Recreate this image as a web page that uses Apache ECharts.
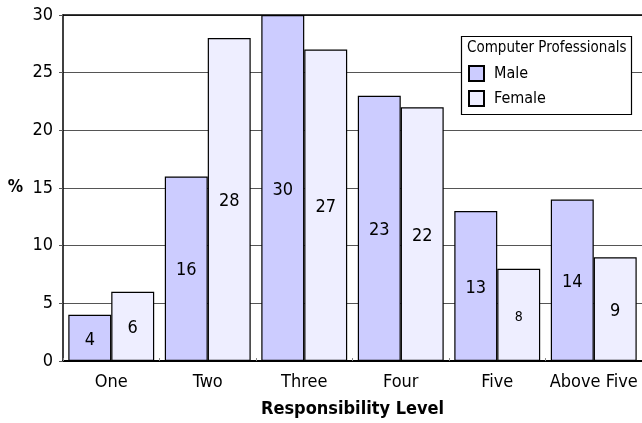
<!DOCTYPE html>
<html>
<head>
<meta charset="utf-8">
<script src="https://cdn.jsdelivr.net/npm/echarts@6/dist/echarts.min.js"></script>
<style>
  html, body { margin: 0; padding: 0; background: #fff; }
  #chart { width: 642px; height: 423px; }
</style>
</head>
<body>
<div id="chart"></div>
<script>
// Share of computer professionals at each responsibility level, by gender (%)
const categories = ['One', 'Two', 'Three', 'Four', 'Five', 'Above Five'];
const maleValues = [4, 16, 30, 23, 13, 14];
const femaleValues = [6, 28, 27, 22, 8, 9];
const yTicks = [0, 5, 10, 15, 20, 25, 30];

const FONT = '"Liberation Sans Narrow", "DejaVu Sans Condensed", "Arial Narrow", sans-serif';

const chart = echarts.init(document.getElementById('chart'), null, { renderer: 'canvas' });

function barData(values) {
  return values.map(v => {
    const item = { value: v };
    // single-digit value in a narrow spot is set a little smaller
    if (v === 8) item.label = { fontSize: 14 };
    return item;
  });
}

const valueLabel = {
  show: true,
  position: 'inside',
  offset: [0, 2],
  fontFamily: FONT,
  fontSize: 18,
  color: '#000'
};

chart.setOption({
  animation: false,
  backgroundColor: '#ffffff',
  textStyle: { fontFamily: FONT, color: '#000' },
  grid: { left: 63, top: 15, right: -3, bottom: 61, containLabel: false },
  legend: {
    z: 20,
    orient: 'vertical',
    left: 468,
    top: 65,
    padding: 0,
    itemWidth: 15,
    itemHeight: 15,
    itemGap: 8,
    icon: 'rect',
    data: ['Male', 'Female'],
    textStyle: { fontFamily: FONT, fontSize: 16, color: '#000', padding: [0, 0, 0, 5] }
  },
  xAxis: [
    {
      type: 'category',
      data: categories,
      position: 'bottom',
      axisLine: { show: true, lineStyle: { color: '#000', width: 2 } },
      axisTick: { show: true, inside: true, length: 3, lineStyle: { color: '#888' } },
      axisLabel: { interval: 0, fontFamily: FONT, fontSize: 18, color: '#000', margin: 12 },
      name: 'Responsibility Level',
      nameLocation: 'middle',
      nameGap: 39,
      nameTextStyle: { fontFamily: FONT, fontSize: 18, fontWeight: 'bold', color: '#000', verticalAlign: 'top' }
    },
    {
      type: 'category',
      data: categories,
      position: 'top',
      axisLine: { show: true, lineStyle: { color: '#000', width: 1.5 } },
      axisTick: { show: false },
      axisLabel: { show: false }
    }
  ],
  yAxis: {
    type: 'value',
    min: yTicks[0],
    max: yTicks[yTicks.length - 1],
    interval: yTicks[1] - yTicks[0],
    axisLine: { show: true, lineStyle: { color: '#000', width: 1.5 } },
    axisTick: { show: true, length: 4, lineStyle: { color: '#555' } },
    axisLabel: { fontFamily: FONT, fontSize: 18, color: '#000', margin: 10 },
    splitLine: { show: true, lineStyle: { color: '#555', width: 1.2 } },
    name: '%',
    nameLocation: 'middle',
    nameRotate: 0,
    nameGap: 40,
    nameTextStyle: { fontFamily: FONT, fontSize: 17, fontWeight: 'bold', color: '#000' }
  },
  graphic: [
    {
      type: 'rect',
      z: 10,
      shape: { x: 461.5, y: 36.5, width: 170, height: 78 },
      style: { fill: '#fff', stroke: '#000', lineWidth: 1.2 }
    },
    {
      type: 'text',
      z: 11,
      left: 467,
      top: 41,
      style: { text: 'Computer Professionals', font: '15px ' + FONT, fill: '#000' }
    }
  ],
  series: [
    {
      name: 'Male',
      type: 'bar',
      data: barData(maleValues),
      barGap: '0%',
      barCategoryGap: '11%',
      itemStyle: { color: '#ccccff', borderColor: '#000', borderWidth: 1.2 },
      label: valueLabel
    },
    {
      name: 'Female',
      type: 'bar',
      data: barData(femaleValues),
      barGap: '0%',
      barCategoryGap: '11%',
      itemStyle: { color: '#eeeeff', borderColor: '#000', borderWidth: 1.2 },
      label: valueLabel
    }
  ]
});
</script>
</body>
</html>
